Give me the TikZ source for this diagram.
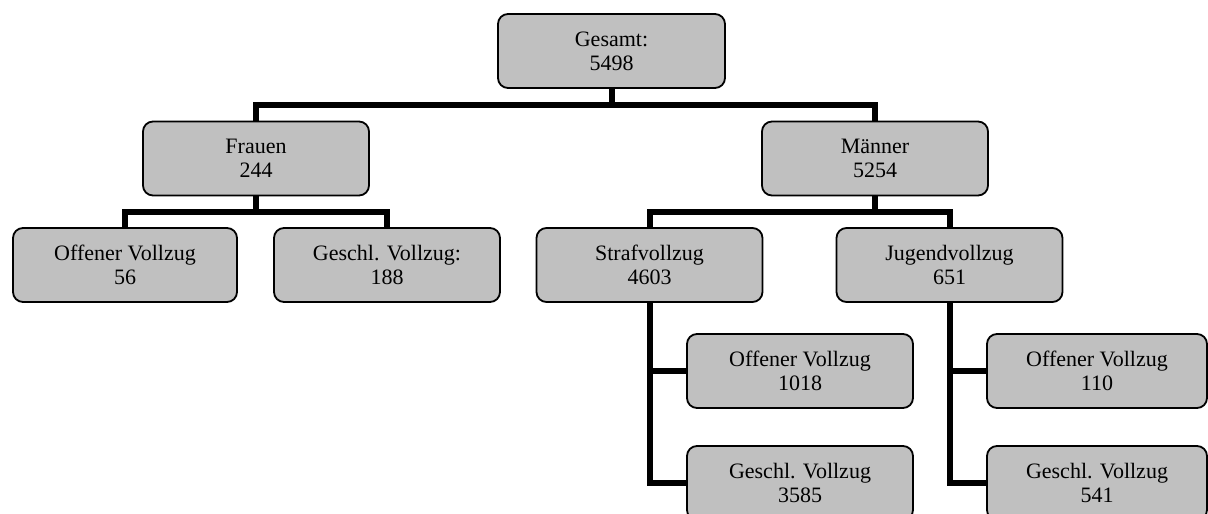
\documentclass[tikz,border=0pt]{standalone}
\usepackage{fontspec}
\setmainfont{Liberation Serif}
\definecolor{boxgray}{HTML}{C0C0C0}
\tikzset{
  orgbox/.style={draw=black, line width=1.8pt, fill=boxgray, rounded corners=10pt,
    minimum width=226pt, minimum height=74pt, inner sep=0pt, align=center,
    font=\fontsize{22pt}{24pt}\selectfont},
  conn/.style={draw=black, line width=6pt, line join=miter, line cap=butt}
}
\begin{document}
\begin{tikzpicture}[x=1pt,y=-1pt]
\useasboundingbox (0,0) rectangle (1208,514);
\node[orgbox, minimum width=227pt] (top) at (611.5,51) {Gesamt:\\5498};
\node[orgbox] (frauen) at (256,158.5) {Frauen\\244};
\node[orgbox] (maenner) at (875,158.5) {Männer\\5254};
\node[orgbox, minimum width=224pt] (of56) at (125,265) {Offener Vollzug\\56};
\node[orgbox] (ge188) at (387,265) {Geschl. Vollzug:\\188};
\node[orgbox] (straf) at (649.5,265) {Strafvollzug\\4603};
\node[orgbox] (jugend) at (949.5,265) {Jugendvollzug\\651};
\node[orgbox] (of1018) at (800,371) {Offener Vollzug\\1018};
\node[orgbox] (ge3585) at (800,483) {Geschl. Vollzug\\3585};
\node[orgbox, minimum width=220pt] (of110) at (1097,371) {Offener Vollzug\\110};
\node[orgbox, minimum width=220pt] (ge541) at (1097,483) {Geschl. Vollzug\\541};
\coordinate (b1) at (0,105);
\coordinate (b2) at (0,212);
% top level
\draw[conn] (top.south) -- (top.south |- b1);
\draw[conn] (frauen.north) -- (frauen.north |- b1) -- (maenner.north |- b1) -- (maenner.north);
% Frauen
\draw[conn] (frauen.south) -- (frauen.south |- b2);
\draw[conn] (of56.north) -- (of56.north |- b2) -- (ge188.north |- b2) -- (ge188.north);
% Maenner
\draw[conn] (maenner.south) -- (maenner.south |- b2);
\draw[conn] (straf.north) -- (straf.north |- b2) -- (jugend.north |- b2) -- (jugend.north);
% Strafvollzug
\draw[conn] (straf.south) -- (straf.south |- ge3585.west) -- (ge3585.west);
\draw[conn] (straf.south |- of1018.west) -- (of1018.west);
% Jugendvollzug
\draw[conn] (jugend.south) -- (jugend.south |- ge541.west) -- (ge541.west);
\draw[conn] (jugend.south |- of110.west) -- (of110.west);
\end{tikzpicture}
\end{document}
